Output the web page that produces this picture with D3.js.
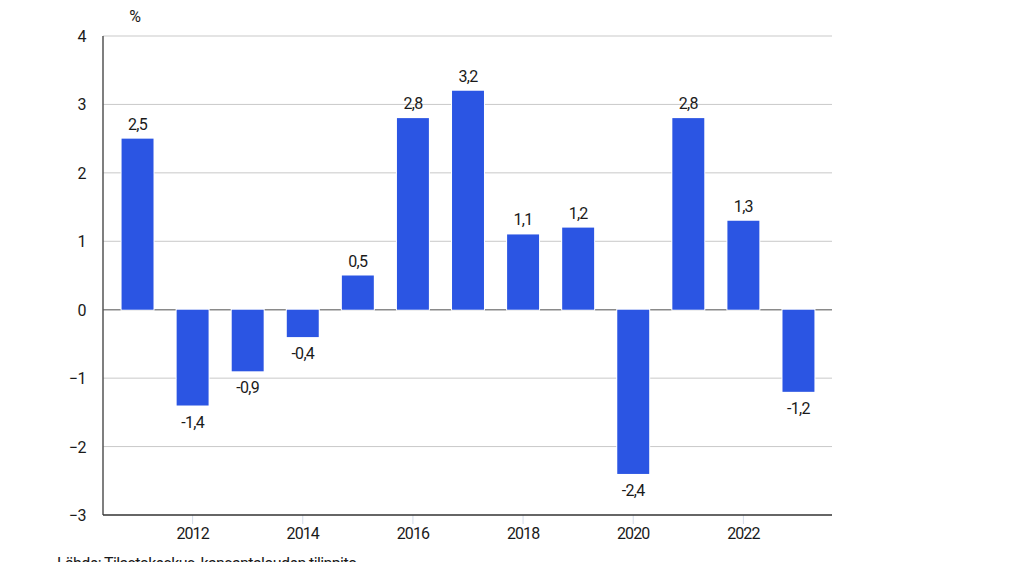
<!DOCTYPE html>
<html><head><meta charset="utf-8">
<script src="https://cdn.jsdelivr.net/npm/d3@7"></script>
<style>body{margin:0;background:#fff;} svg{display:block;} text{font-family:Roboto, "Noto Sans", sans-serif;fill:#1a1a1a;}</style>
</head><body>
<svg id="c" width="1024" height="562"></svg>
<script>
const years = [2011,2012,2013,2014,2015,2016,2017,2018,2019,2020,2021,2022,2023];
const values = [2.5,-1.4,-0.9,-0.4,0.5,2.8,3.2,1.1,1.2,-2.4,2.8,1.3,-1.2];
const yTicks = [-3,-2,-1,0,1,2,3,4];
const xTickYears = [2012,2014,2016,2018,2020,2022];
const unitLabel = "%";
const sourceText = "Lähde: Tilastokeskus, kansantalouden tilinpito";

(function(){
const svg = d3.select("#c");
const pl = 103, pr = 832, pt = 36, pb = 515;
const x = d3.scaleBand().domain(years).range([110, 826]).paddingInner(0.42).paddingOuter(0.21);
const y = d3.scaleLinear().domain([-3, 4]).range([pb, pt]);
const fmt = v => d3.format(".1f")(v).replace(".", ",").replace("\u2212", "-");

// gridlines
svg.append("g").selectAll("line").data(yTicks.filter(t => t !== -3)).join("line")
  .attr("x1", pl).attr("x2", pr)
  .attr("y1", d => y(d)).attr("y2", d => y(d))
  .attr("stroke", d => d === 0 ? "#8a8a8a" : "#c9c9c9")
  .attr("stroke-width", d => d === 0 ? 1.6 : 1);

// x tick marks
svg.append("g").selectAll("line").data(xTickYears).join("line")
  .attr("x1", d => x(d) + x.bandwidth()/2).attr("x2", d => x(d) + x.bandwidth()/2)
  .attr("y1", pb).attr("y2", pb + 9)
  .attr("stroke", "#d3dbea").attr("stroke-width", 1);

// bars
svg.append("g").selectAll("rect").data(years).join("rect")
  .attr("x", d => x(d)).attr("width", x.bandwidth())
  .attr("y", (d,i) => y(Math.max(0, values[i])))
  .attr("height", (d,i) => Math.abs(y(values[i]) - y(0)))
  .attr("fill", "#2b55e3").attr("stroke", "#fff").attr("stroke-width", 2)
  .attr("paint-order", "stroke");

// value labels
svg.append("g").selectAll("text").data(years).join("text")
  .attr("x", d => x(d) + x.bandwidth()/2)
  .attr("y", (d,i) => values[i] >= 0 ? y(values[i]) - 9 : y(values[i]) + 22)
  .attr("text-anchor", "middle").attr("font-size", 16).attr("letter-spacing", -0.7)
  .text((d,i) => fmt(values[i]));

// axes lines
svg.append("line").attr("x1", pl).attr("x2", pl).attr("y1", pt).attr("y2", pb)
  .attr("stroke", "#555").attr("stroke-width", 1.5);
svg.append("line").attr("x1", pl).attr("x2", pr).attr("y1", pb).attr("y2", pb)
  .attr("stroke", "#333").attr("stroke-width", 1.6);

// y labels
svg.append("g").selectAll("text").data(yTicks).join("text")
  .attr("x", 86).attr("y", d => y(d) + 6).attr("text-anchor", "end")
  .attr("font-size", 16).attr("letter-spacing", -0.5)
  .text(d => d < 0 ? "\u2212" + Math.abs(d) : String(d));

// x labels
svg.append("g").selectAll("text").data(xTickYears).join("text")
  .attr("x", d => x(d) + x.bandwidth()/2).attr("y", 539).attr("text-anchor", "middle")
  .attr("font-size", 16).attr("letter-spacing", -0.9).text(d => d);

svg.append("text").attr("x", 135).attr("y", 22).attr("text-anchor", "middle")
  .attr("font-size", 16).text(unitLabel);

svg.append("text").attr("x", 57).attr("y", 569).attr("font-size", 16)
  .attr("letter-spacing", -0.6).text(sourceText);
})();
</script>
</body></html>
